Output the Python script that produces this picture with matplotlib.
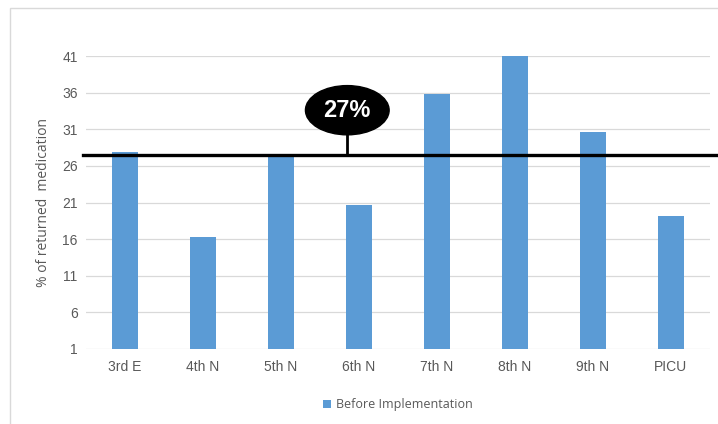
import matplotlib.pyplot as plt
from matplotlib.patches import Rectangle

units = ["3rd E", "4th N", "5th N", "6th N", "7th N", "8th N", "9th N", "PICU"]
returned = [27.9, 16.3, 27.5, 20.7, 35.8, 41.0, 30.6, 19.2]
yticks = [1, 6, 11, 16, 21, 26, 31, 36, 41]
target = 27.5
target_label = "27%"

plt.rcParams['font.family'] = ['Liberation Sans Narrow', 'Liberation Sans', 'DejaVu Sans']

fig = plt.figure(figsize=(7.18, 4.24), dpi=100)
fig.set_facecolor("white")
# outer chart frame
fig.patches.append(Rectangle((10/718, -0.1), 1.2, (424 - 8)/424 + 0.1, transform=fig.transFigure,
                             fill=False, edgecolor="#d9d9d9", linewidth=1.0))

ax = fig.add_axes([0.1198, 0.1769, 0.869, 0.691])
x = range(len(units))
bars = ax.bar(x, returned, bottom=0, width=0.34, color="#5b9bd5", label="Before Implementation", zorder=2)

ax.set_ylim(1, 41)
ax.set_xlim(-0.5, len(units) - 0.5)
ax.set_yticks(yticks)
ax.set_xticks(list(x))
ax.set_xticklabels(units)
ax.tick_params(axis="both", length=0, colors="#595959", labelsize=10)
ax.tick_params(axis="x", pad=8)
ax.tick_params(axis="y", pad=6)
ax.grid(axis="y", color="#d9d9d9", linewidth=0.9, zorder=0)
for s in ax.spines.values():
    s.set_visible(False)
ax.set_ylabel("% of returned  medication", color="#595959", fontsize=10,
              family=["Open Sans", "DejaVu Sans"], labelpad=8)

# target line with callout
ax.axhline(target, xmin=-0.005, xmax=1.02, color="black", linewidth=2.4, clip_on=False, zorder=3)
ax.plot([2.85, 2.85], [target, 30.3], color="black", linewidth=2, zorder=3)
ax.text(2.85, 33.6, target_label, ha="center", va="center", color="white", fontsize=17,
        fontweight="bold", family=["Liberation Sans", "DejaVu Sans"], zorder=4,
        bbox=dict(boxstyle="ellipse,pad=0.25", fc="black", ec="black"))

leg = ax.legend(loc="upper center", bbox_to_anchor=(0.5, -0.13), frameon=False,
                handlelength=0.6, handleheight=0.6, handletextpad=0.4,
                prop={"family": ["Open Sans", "DejaVu Sans"], "size": 9})
for t in leg.get_texts():
    t.set_color("#595959")

plt.savefig("out.png", dpi=100)
